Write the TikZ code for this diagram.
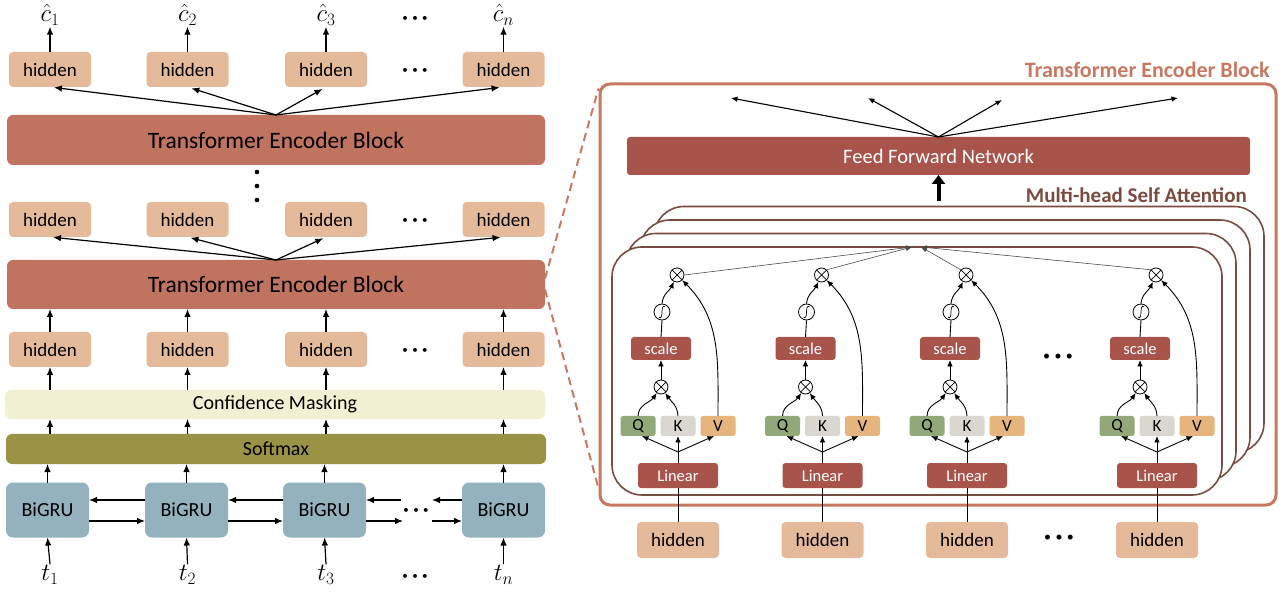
\documentclass[tikz,border=0pt]{standalone}
\usepackage{fontspec}
\setmainfont{Carlito}
\usetikzlibrary{arrows.meta,calc}
\definecolor{hidc}{HTML}{E5BA9A}
\definecolor{tebc}{HTML}{C0735F}
\definecolor{cmc}{HTML}{F2F0D2}
\definecolor{smc}{HTML}{9A9345}
\definecolor{bgc}{HTML}{93B2BE}
\definecolor{ffnc}{HTML}{A8544B}
\definecolor{qc}{HTML}{93A878}
\definecolor{kc}{HTML}{DAD7D1}
\definecolor{vc}{HTML}{E6B57E}
\definecolor{mhsac}{HTML}{7A4B3F}
\definecolor{outc}{HTML}{C8785F}
\newcommand{\mydots}{\textbullet\hspace{4.5pt}\textbullet\hspace{4.5pt}\textbullet}
\begin{document}
\begin{tikzpicture}[x=1pt,y=-1pt,
  box/.style={inner sep=0pt, outer sep=0pt},
  hid/.style={box, fill=hidc, rounded corners=4pt, minimum width=82pt, minimum height=35pt, font=\fontsize{19}{22}\selectfont},
  layer/.style={box, rounded corners=6pt, minimum width=538pt},
  bigru/.style={box, fill=bgc, rounded corners=7pt, minimum width=83pt, minimum height=55pt, font=\fontsize{20}{24}\selectfont},
  arr/.style={-{Latex[length=8pt,width=6.5pt]}, line width=1.2pt},
  sarr/.style={-{Latex[length=6.5pt,width=5.5pt]}, line width=0.9pt},
  marr/.style={-{Latex[length=6pt,width=5pt]}, line width=0.6pt, black!70},
  redbox/.style={box, fill=ffnc, rounded corners=3pt, text=white},
  qkv/.style={box, rounded corners=2.5pt, minimum width=35pt, minimum height=20pt, font=\fontsize{17}{20}\selectfont},
  op/.style={circle, draw, line width=0.8pt, fill=white, inner sep=0pt, minimum size=14pt},
  lab/.style={inner sep=1pt, font=\fontsize{24}{28}\selectfont},
  dotlab/.style={inner sep=0pt, font=\fontsize{11}{12}\selectfont},
  bigdot/.style={inner sep=0pt, font=\fontsize{14}{16}\selectfont},
]
\useasboundingbox (0,0) rectangle (1288,593);

% ---------------- left column ----------------
\foreach \i/\x in {1/50,2/187.5,3/326,4/503.5} {
  \node[hid] (ha\i) at (\x,69.5) {hidden};
  \node[hid] (hb\i) at (\x,219.5) {hidden};
  \node[hid] (hc\i) at (\x,349.5) {hidden};
}
\node[lab] (ca1) at (50,15) {$\hat{c}_1$};
\node[lab] (ca2) at (187.5,15) {$\hat{c}_2$};
\node[lab] (ca3) at (326,15) {$\hat{c}_3$};
\node[lab] (ca4) at (503.5,15) {$\hat{c}_n$};
\node[dotlab] (cad) at (415,19) {\mydots};
\node[dotlab] (had) at (415,71) {\mydots};
\node[dotlab] (hbd) at (415,221) {\mydots};
\node[dotlab] (hcd) at (415,351) {\mydots};

\node[layer, fill=tebc, minimum height=50pt, font=\fontsize{23.5}{28}\selectfont] (teb1) at (276,140) {Transformer Encoder Block};
\node[layer, fill=tebc, minimum height=49pt, font=\fontsize{23.5}{28}\selectfont] (teb2) at (276,284.5) {Transformer Encoder Block};
\node[layer, fill=cmc, minimum width=540pt, minimum height=29pt, font=\fontsize{20}{24}\selectfont] (cm) at (275,404.5) {Confidence Masking};
\node[layer, fill=smc, minimum width=540pt, minimum height=30pt, font=\fontsize{20}{24}\selectfont] (sm) at (276,449) {Softmax};

\fill (257,172) circle (2.3pt) (257,186) circle (2.3pt) (257,200) circle (2.3pt);

\foreach \i/\x in {1/47.5,2/186.5,3/324.5,4/503.5} {
  \node[bigru] (g\i) at (\x,510) {BiGRU};
}
\node[lab] (t1) at (50,575) {$t_1$};
\node[lab] (t2) at (187.5,575) {$t_2$};
\node[lab] (t3) at (326,575) {$t_3$};
\node[lab] (t4) at (503.5,575) {$t_n$};
\node[dotlab] (td) at (415,577) {\mydots};
\node[dotlab] (gd) at (416,511) {\mydots};

\foreach \i in {1,2,3,4} {
  \draw[arr] (ha\i.north) -- (ca\i.south);
  \draw[arr, shorten >=4pt] (teb1.north) -- (ha\i.south);
  \draw[arr, shorten >=3pt] (teb2.north) -- (hb\i.south);
  \draw[arr] (hc\i.north) -- (hc\i.north |- teb2.south);
  \draw[arr] (hc\i.south |- cm.north) -- (hc\i.south);
  \draw[arr] (hc\i.south |- sm.north) -- (hc\i.south |- cm.south);
  \draw[arr] (g\i.north) -- (g\i.north |- sm.south);
  \draw[arr] (t\i.north) -- (g\i.south);
}
\draw[arr] ([yshift=10pt]g2.west) -- ([yshift=10pt]g1.east);
\draw[arr] ([yshift=-11pt]g1.east) -- ([yshift=-11pt]g2.west);
\draw[arr] ([yshift=10pt]g3.west) -- ([yshift=10pt]g2.east);
\draw[arr] ([yshift=-11pt]g2.east) -- ([yshift=-11pt]g3.west);
\coordinate (gd1) at (401,500);
\coordinate (gd2) at (403,521);
\coordinate (gd3) at (432,500);
\coordinate (gd4) at (432,521);
\draw[arr] (gd1) -- ([yshift=10pt]g3.east);
\draw[arr] ([yshift=-11pt]g3.east) -- (gd2);
\draw[arr] ([yshift=10pt]g4.west) -- (gd3);
\draw[arr] (gd4) -- ([yshift=-11pt]g4.west);

% ---------------- right block ----------------
\node[draw=outc, line width=3pt, rounded corners=10pt, minimum width=676pt, minimum height=421pt, inner sep=0pt] (outer) at (938,294.5) {};
\draw[outc, line width=2pt, dash pattern=on 8pt off 5pt] ([yshift=6pt]teb2.east) -- ([yshift=-6pt]outer.north west);
\draw[outc, line width=2pt, dash pattern=on 8pt off 5pt] ([yshift=-5pt]teb2.east) -- ([yshift=18pt]outer.south west);
\node[anchor=east, inner sep=0pt, text=outc, font=\bfseries\fontsize{22}{26}\selectfont] (tebl) at (1270,70) {Transformer Encoder Block};

\node[redbox, minimum width=623pt, minimum height=38pt, font=\fontsize{20.5}{24}\selectfont] (ffn) at (938.5,156) {Feed Forward Network};
\coordinate (o1) at (731,98);
\coordinate (o2) at (868,98);
\coordinate (o3) at (1002,100);
\coordinate (o4) at (1178,98);
\foreach \i in {1,2,3,4} { \draw[sarr, line width=1.1pt] (ffn.north) -- (o\i); }
\coordinate (mhtop) at (938.5,201);
\draw[-{Triangle[length=9pt,width=13pt]}, line width=4pt] (mhtop) -- (ffn.south);
\node[anchor=east, inner sep=0pt, text=mhsac, font=\bfseries\fontsize{21}{24}\selectfont] (mhl) at (1247,195) {Multi-head Self Attention};

\foreach \k in {3,2,1,0} {
  \node[draw=mhsac, line width=1.6pt, fill=white, rounded corners=30pt, inner sep=0pt,
        minimum width=610pt, minimum height={248-0.5*\k}] (st\k) at (917+14*\k, 371-13.75*\k) {};
}

\foreach \c [count=\i] in {678,822.5,967,1157} {
  \node[hid, minimum height=36pt] (hr\i) at (\c,540) {hidden};
  \node[redbox, minimum width=80pt, minimum height=25pt, font=\fontsize{16.5}{20}\selectfont] (lin\i) at (\c,475.5) {Linear};
  \draw[line width=1pt] (hr\i.north) -- (lin\i.south);
  \node[qkv, fill=qc] (q\i) at (\c-40,426) {Q};
  \node[qkv, fill=kc] (k\i) at (\c,426) {K};
  \node[qkv, fill=vc] (v\i) at (\c+40,426) {V};
  \coordinate (fk\i) at (\c,452);
  \draw[line width=0.9pt] (lin\i.north) -- (fk\i);
  \draw[sarr] (fk\i) -- (k\i.south);
  \draw[sarr] (fk\i) -- ([xshift=4pt]q\i.south);
  \draw[sarr] (fk\i) -- ([xshift=-4pt]v\i.south);
  \node[op] (lx\i) at (\c-17,387) {};
  \draw[line width=0.7pt] (lx\i.north west) -- (lx\i.south east) (lx\i.north east) -- (lx\i.south west);
  \draw[sarr] (q\i.north) to[out=88,in=-125] (lx\i.-125);
  \draw[sarr] (k\i.north) to[out=92,in=-55] (lx\i.-55);
  \node[redbox, minimum width=60pt, minimum height=23pt, font=\fontsize{16.5}{20}\selectfont] (sc\i) at (\c-17,348.5) {scale};
  \draw[sarr] (lx\i.north) -- (sc\i.south);
  \node[op, minimum size=16pt] (sg\i) at (\c-16,312) {};
  \draw[line width=0.7pt] ([shift={(-3,5)}]sg\i.center) .. controls ([shift={(-1,7.5)}]sg\i.center) and ([shift={(0,4)}]sg\i.center) .. (sg\i.center) .. controls ([shift={(0,-4)}]sg\i.center) and ([shift={(1,-7.5)}]sg\i.center) .. ([shift={(3,-5)}]sg\i.center);
  \draw[line width=0.9pt] (sc\i.north) -- (sg\i.south);
  \node[op] (ux\i) at (\c-1,275) {};
  \draw[line width=0.7pt] (ux\i.north west) -- (ux\i.south east) (ux\i.north east) -- (ux\i.south west);
  \draw[sarr] (sg\i.north) to[out=85,in=-115] (ux\i.-115);
  \draw[sarr] (v\i.north) to[out=90,in=-45] (ux\i.-45);
}
\coordinate (mL) at (912,247);
\coordinate (mR) at (921,247);
\draw[marr] (ux1.east) -- (mL);
\draw[marr] (ux2.north east) -- (mL);
\draw[marr] (ux3.north west) -- (mR);
\draw[marr] (ux4.north west) -- (mR);

\node[bigdot] (hdots) at (1058,357) {\mydots};
\node[bigdot] (bdots) at (1059,538) {\mydots};
\end{tikzpicture}
\end{document}
